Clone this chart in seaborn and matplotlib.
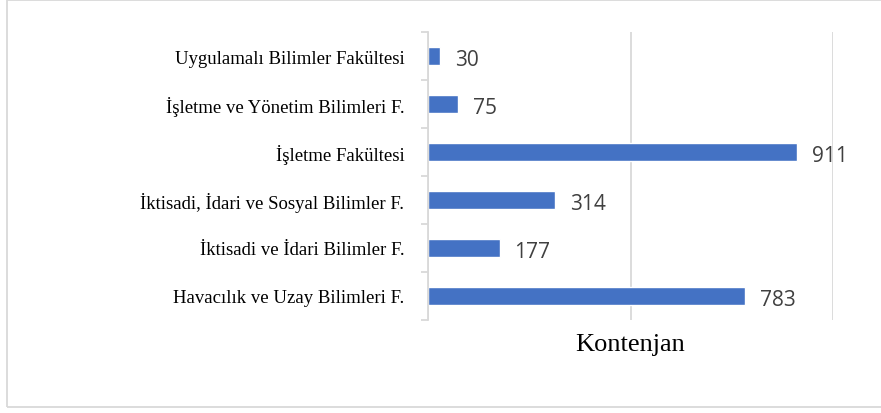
import matplotlib
matplotlib.use("Agg")
import matplotlib.pyplot as plt
import seaborn as sns
import pandas as pd
from matplotlib.patches import Rectangle

categories = [
    "Uygulamalı Bilimler Fakültesi",
    "İşletme ve Yönetim Bilimleri F.",
    "İşletme Fakültesi",
    "İktisadi, İdari ve Sosyal Bilimler F.",
    "İktisadi ve İdari Bilimler F.",
    "Havacılık ve Uzay Bilimleri F.",
]
values = [30, 75, 911, 314, 177, 783]
x_label = "Kontenjan"

sns.set_theme(style="white")
df = pd.DataFrame({"cat": categories, "val": values})

fig = plt.figure(figsize=(8.81, 4.14), dpi=100)
ax = fig.add_axes([428 / 881, 93 / 414, 405 / 881, 288 / 414])

sns.barplot(data=df, x="val", y="cat", color="#4472C4", saturation=1,
            width=0.37, ax=ax, orient="h")

ax.set_xlim(0, 1000)
ax.set_ylim(len(categories) - 0.5, -0.5)
ax.set_xticks([0, 500, 1000])
ax.set_xticklabels([])
ax.tick_params(axis="x", length=0)
ax.grid(axis="x", color="#D9D9D9", linewidth=1.3)
ax.set_axisbelow(True)
for s in ["top", "right", "bottom"]:
    ax.spines[s].set_visible(False)
ax.spines["left"].set_color("#D9D9D9")
ax.spines["left"].set_linewidth(1.3)

ax.set_yticks(range(len(categories)))
ax.set_yticklabels(categories, fontfamily="Liberation Serif", fontsize=13.5, color="#000000")
ax.tick_params(axis="y", length=0, pad=17)
ax.set_yticks([i - 0.5 for i in range(len(categories) + 1)], minor=True)
ax.tick_params(axis="y", which="minor", length=5, color="#D9D9D9", width=1.3, left=True)

ax.set_xlabel(x_label, fontfamily="Liberation Serif", fontsize=19, color="#000000", labelpad=6)
ax.set_ylabel("")

for i, v in enumerate(values):
    ax.text(v + 36, i + 0.08, str(v), va="center", ha="left", fontsize=15,
            fontfamily="Open Sans", color="#404040")

fig.patches.append(Rectangle((7 / 881, 6 / 414), 880 / 881, 407 / 414,
                             transform=fig.transFigure, fill=False,
                             edgecolor="#D9D9D9", linewidth=1.3))

fig.savefig("out.png", dpi=100)
